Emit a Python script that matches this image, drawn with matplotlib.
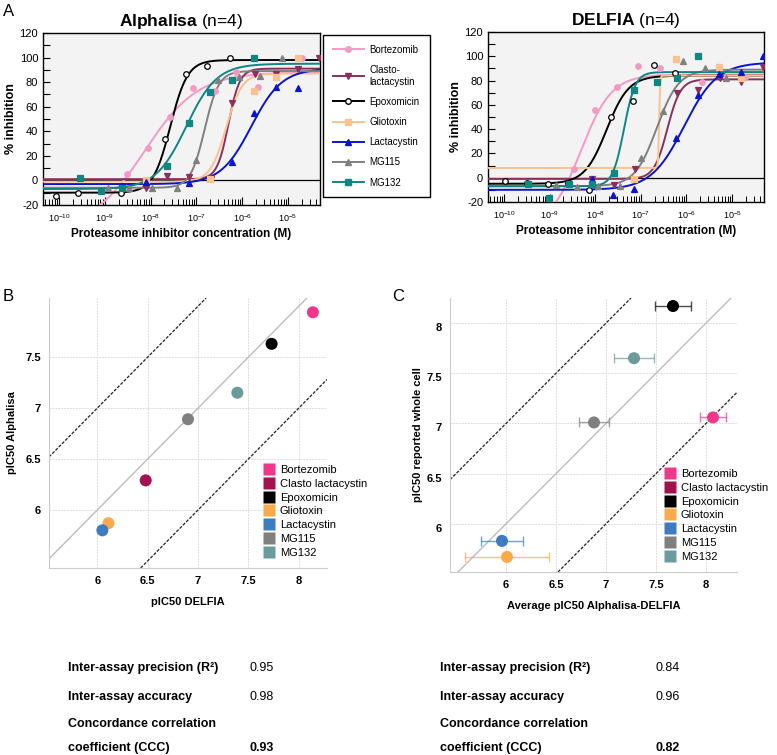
import numpy as np
import matplotlib
matplotlib.use('Agg')
import matplotlib.pyplot as plt
from matplotlib.ticker import MultipleLocator, LogLocator, NullFormatter
from matplotlib.lines import Line2D

plt.rcParams['font.family'] = ['Liberation Sans', 'DejaVu Sans']
plt.rcParams['mathtext.fontset'] = 'custom'
plt.rcParams['mathtext.rm'] = 'Liberation Sans'
plt.rcParams['mathtext.bf'] = 'Liberation Sans:bold'
plt.rcParams['mathtext.it'] = 'Liberation Sans:italic'
plt.rcParams['axes.unicode_minus'] = False

# compounds
names = ['Bortezomib', 'Clasto-lactacystin', 'Epoxomicin', 'Gliotoxin',
         'Lactacystin', 'MG115', 'MG132']
names_b = ['Bortezomib', 'Clasto lactacystin', 'Epoxomicin', 'Gliotoxin',
           'Lactacystin', 'MG115', 'MG132']

# panel A: dose-response points (log10 M, % inhibition)
alpha_logc = [[-8.51, -8.05, -7.57, -7.08, -6.6, -6.14, -5.66, -4.69],
              [-8.11, -7.64, -7.17, -6.69, -6.23, -5.73, -5.26, -4.78, -4.32],
              [-10.07, -9.58, -8.64, -7.68, -7.22, -6.76, -6.27],
              [-8.11, -6.71, -5.74, -5.26, -4.78],
              [-8.11, -7.17, -6.23, -5.75, -5.26, -4.78],
              [-8.93, -8.47, -7.96, -7.43, -7.0, -6.53, -6.07, -5.6, -5.13],
              [-9.54, -9.08, -8.62, -7.65, -7.17, -6.71, -6.23, -5.75]]
alpha_inhib = [[5, 26, 52, 75, 73, 88, 76, 100],
               [-6, 4, 3, 1, 63, 87, 87, 91, 100],
               [-13, -10, -10, 34, 87, 93, 100],
               [0, 1, 73, 84, 100],
               [-1, -2, 15, 55, 76, 75],
               [-6, -6, -6, -6, 17, 82, 84, 85, 100],
               [2, -9, -6, 12, 47, 72, 82, 100]]
# fitted 4PL parameters
alpha_bottom = [-40, 1, -10, -1, -3, -6, -7]
alpha_top = [88, 91, 98, 87, 91, 89, 95]
alpha_logec50 = [-8.13, -6.3, -7.57, -6.35, -5.8, -6.82, -7.22]
alpha_hill = [0.75, 3.5, 2.3, 2.5, 1.3, 2.8, 1.3]

delfia_logc = [[-8.46, -8.0, -7.52, -7.07, -6.59, -5.65, -4.72],
               [-8.07, -7.59, -7.13, -6.2, -5.74, -5.26, -4.8, -4.33],
               [-9.98, -9.5, -9.04, -8.59, -8.13, -7.65, -7.17, -6.72, -6.26],
               [-7.15, -6.22, -5.28, -4.8],
               [-8.07, -7.61, -7.15, -6.22, -5.74, -5.28, -4.8, -4.33],
               [-8.85, -8.39, -7.93, -7.46, -7.0, -6.52, -6.07, -5.59, -5.13],
               [-9.48, -9.02, -8.57, -8.07, -7.59, -7.15, -6.65, -6.2, -5.74]]
delfia_inhib = [[7, 56, 75, 92, 90, 79, 83],
                [-1, -6, 7, 70, 72, 82, 79, 91],
                [-3, -4, -5, -4, -10, 50, 63, 93, 86],
                [-1, 98, 91, 82],
                [-1, -14, -9, 33, 68, 85, 87, 100],
                [-6, -8, -7, -7, 16, 55, 96, 90, 82],
                [-5, -17, -5, -5, 4, 72, 79, 82, 100]]
delfia_bottom = [-40, -1, -5, 8, -10, -7, -7]
delfia_top = [85, 81, 84, 84, 95, 89, 87]
delfia_logec50 = [-8.31, -6.42, -7.75, -6.6, -6.05, -6.65, -7.37]
delfia_hill = [1.3, 3.0, 1.8, 40, 1.2, 1.8, 3.5]

# panel B
b_delfia = [8.14, 6.48, 7.73, 6.11, 6.05, 6.90, 7.39]
b_alpha = [7.94, 6.29, 7.63, 5.87, 5.80, 6.89, 7.15]

# panel C
c_avg = [8.07, np.nan, 7.67, 6.01, 5.96, 6.88, 7.28]
c_whole = [7.06, np.nan, 8.17, 5.67, 5.83, 7.01, 7.65]
c_err = [0.13, np.nan, 0.18, 0.42, 0.21, 0.15, 0.20]

# statistics tables
stat_labels = ['Inter-assay precision (R\u00b2)', 'Inter-assay accuracy',
               'Concordance correlation', 'coefficient (CCC)']
stats_b = ['0.95', '0.98', '', '0.93']
stats_c = ['0.84', '0.96', '', '0.82']

# styles
a_colors = ['#f49ac4', '#8b2f5e', '#000000', '#fac28e', '#0a14d0', '#808080', '#0e8682']
a_markers = ['o', 'v', 'o', 's', '^', '^', 's']
bc_colors = ['#f0388a', '#a3124f', '#000000', '#f9aa4a', '#3e7cc2', '#808080', '#6b9b9b']

W, H = 777, 755
fig = plt.figure(figsize=(W / 100, H / 100), dpi=100)


def fpos(l, t, r, b):
    return [l / W, 1 - b / H, (r - l) / W, (b - t) / H]


def dose_panel(ax, logc, inhib, bottom, top, ec50, hill, title):
    ax.set_facecolor('#f3f3f3')
    xs = np.linspace(-10.5, -4.2, 800)
    for i in range(len(names)):
        yfit = bottom[i] + (top[i] - bottom[i]) / (1 + 10 ** ((ec50[i] - xs) * hill[i]))
        ax.plot(10 ** xs, yfit, color=a_colors[i], lw=1.4, zorder=3)
        mfc = 'white' if names[i] == 'Epoxomicin' else a_colors[i]
        ax.plot(10 ** np.array(logc[i]), inhib[i], ls='none', marker=a_markers[i],
                ms=4, mfc=mfc, mec=a_colors[i], mew=0.9, zorder=4)
    ax.axhline(0, color='k', lw=0.9, zorder=2)
    ax.set_xscale('log')
    ax.set_xlim(10 ** -10.35, 10 ** -4.3)
    ax.set_ylim(-20, 120)
    ax.set_xticks([10.0 ** k for k in range(-10, -4)])
    ax.xaxis.set_minor_locator(LogLocator(base=10, subs=np.arange(2, 10)))
    ax.xaxis.set_minor_formatter(NullFormatter())
    ax.set_yticks(range(-20, 121, 20))
    ax.yaxis.set_minor_locator(MultipleLocator(10))
    ax.tick_params(axis='x', which='major', direction='in', length=6, width=0.8,
                   labelsize=6.5, pad=5)
    ax.tick_params(axis='x', which='minor', direction='in', length=4, width=0.7)
    ax.tick_params(axis='y', which='both', direction='in', length=5, width=0.8,
                   labelsize=8)
    for s in ax.spines.values():
        s.set_linewidth(1.0)
    ax.set_ylabel('% inhibition', fontsize=9, fontweight='bold', labelpad=2)
    ax.set_xlabel('Proteasome inhibitor concentration (M)', fontsize=8.5,
                  fontweight='bold', labelpad=3)
    ax.set_title(title, fontsize=12.5, pad=5)


ax_a1 = fig.add_axes(fpos(43, 33, 320, 205))
dose_panel(ax_a1, alpha_logc, alpha_inhib, alpha_bottom, alpha_top,
           alpha_logec50, alpha_hill, r'$\mathbf{Alphalisa}$ (n=4)')
ax_a2 = fig.add_axes(fpos(488, 32, 764, 202))
dose_panel(ax_a2, delfia_logc, delfia_inhib, delfia_bottom, delfia_top,
           delfia_logec50, delfia_hill, r'$\mathbf{DELFIA}$ (n=4)')

handles = []
for i in range(len(names)):
    mfc = 'white' if names[i] == 'Epoxomicin' else a_colors[i]
    handles.append(Line2D([], [], color=a_colors[i], lw=1.4, marker=a_markers[i],
                          ms=4, mfc=mfc, mec=a_colors[i]))
leg_labels = ['Bortezomib', 'Clasto-\nlactacystin', 'Epoxomicin', 'Gliotoxin',
              'Lactacystin', 'MG115', 'MG132']
leg = fig.legend(handles, leg_labels, loc='upper left',
                 bbox_to_anchor=(323 / W, 1 - 35 / H), fontsize=7,
                 frameon=True, fancybox=False, edgecolor='k', framealpha=1,
                 handlelength=3.2, handletextpad=0.6, labelspacing=1.05,
                 borderpad=1.0, borderaxespad=0)
leg.get_frame().set_linewidth(1.0)


def corr_panel(ax, xlim, ylim, yticks):
    ax.set_xlim(*xlim)
    ax.set_ylim(*ylim)
    ax.set_xticks([6, 6.5, 7, 7.5, 8])
    ax.set_xticklabels(['6', '6.5', '7', '7.5', '8'])
    ax.set_yticks(yticks)
    ax.set_yticklabels(['%g' % v for v in yticks])
    ax.grid(True, color='#dddddd', lw=0.7, ls=(0, (2, 1)))
    ax.set_axisbelow(True)
    for s in ['top', 'right']:
        ax.spines[s].set_visible(False)
    for s in ['left', 'bottom']:
        ax.spines[s].set_color('#cccccc')
        ax.spines[s].set_linewidth(0.8)
    ax.tick_params(length=0, labelsize=8, pad=6)
    for lab in ax.get_xticklabels() + ax.get_yticklabels():
        lab.set_fontweight('bold')
    ax.axline((6, 6), slope=1, color='#bdbdbd', lw=1.0, zorder=1)
    ax.axline((6, 7), slope=1, color='#222222', lw=0.9, ls=(0, (2.5, 1.2)), zorder=1)
    ax.axline((6, 5), slope=1, color='#222222', lw=0.9, ls=(0, (2.5, 1.2)), zorder=1)


ax_b = fig.add_axes(fpos(49, 298, 327, 568))
corr_panel(ax_b, (5.52, 8.28), (5.43, 8.08), [6, 6.5, 7, 7.5])
ax_b.scatter(b_delfia, b_alpha, s=75, c=bc_colors, zorder=3, linewidths=0)
ax_b.set_xlabel('pIC50 DELFIA', fontsize=8, fontweight='bold', labelpad=8)
ax_b.set_ylabel('pIC50 Alphalisa', fontsize=8, fontweight='bold', labelpad=6)

ax_c = fig.add_axes(fpos(450, 298, 737, 572))
corr_panel(ax_c, (5.44, 8.31), (5.52, 8.25), [6, 6.5, 7, 7.5, 8])
for lab in ax_c.get_yticklabels():
    lab.set_va('top')
for i in range(len(names)):
    ax_c.errorbar(c_avg[i], c_whole[i], xerr=c_err[i], fmt='none',
                  ecolor=bc_colors[i], alpha=0.7, elinewidth=1.0, capsize=3.5,
                  capthick=1.0, zorder=2)
ax_c.scatter(c_avg, c_whole, s=75, c=bc_colors, zorder=3, linewidths=0)
ax_c.set_xlabel('Average pIC50 Alphalisa-DELFIA', fontsize=8, fontweight='bold',
                labelpad=8)
ax_c.set_ylabel('pIC50 reported whole cell', fontsize=8, fontweight='bold',
                labelpad=2)

sq = [Line2D([], [], ls='none', marker='s', ms=9, mfc=c, mec='none') for c in bc_colors]
for anchor in [(263 / W, 1 - 465 / H), (664 / W, 1 - 469 / H)]:
    fig.legend(sq, names_b, loc='upper left', bbox_to_anchor=anchor, fontsize=8,
               frameon=False, handlelength=1.0, handletextpad=0.5,
               labelspacing=0.34, borderpad=0, borderaxespad=0)

# panel letters
fig.text(3 / W, 1 - 12 / H, 'A', fontsize=12, va='center')
fig.text(3 / W, 1 - 296 / H, 'B', fontsize=12, va='center')
fig.text(392 / W, 1 - 296 / H, 'C', fontsize=12, va='center')

# statistics
rows_y = [668, 697, 724, 748]
for k, lab in enumerate(stat_labels):
    for x0, xv, vals in [(68, 250, stats_b), (440, 655, stats_c)]:
        fig.text(x0 / W, 1 - rows_y[k] / H, lab, fontsize=9, fontweight='bold',
                 va='center')
        if vals[k]:
            fig.text(xv / W, 1 - rows_y[k] / H, vals[k], fontsize=9, va='center',
                     fontweight='bold' if k == 3 else 'normal')

fig.savefig('out.png', dpi=100)
